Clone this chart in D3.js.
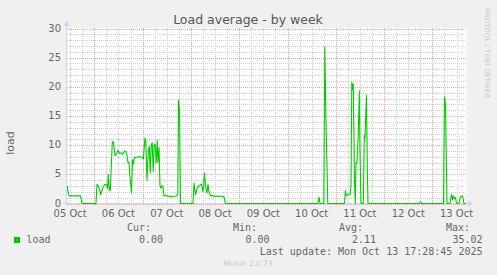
<!DOCTYPE html>
<html>
<head>
<meta charset="utf-8">
<script src="https://cdn.jsdelivr.net/npm/d3@7"></script>
<style>
html,body{margin:0;padding:0;background:#F0F0F0;}
svg{display:block;}
</style>
</head>
<body>
<svg id="chart" width="497" height="275"></svg>
<script>
// ---- data (hours since 2025-10-05 00:00, load values) ----
const hours = [10.58,11.18,11.68,17.14,17.89,24.84,25.34,26.34,27.18,28.32,29.32,30.16,30.56,30.96,31.45,31.95,32.94,33.54,34.29,35.03,35.78,36.52,37.27,38.01,38.76,39.50,40.10,40.75,41.24,41.89,42.48,42.98,43.48,43.97,44.72,45.71,46.71,47.70,48.35,48.79,49.19,49.59,50.19,50.83,51.33,51.83,52.27,52.77,53.27,53.76,54.26,54.76,55.25,55.65,56.15,56.65,57.14,57.64,58.14,58.63,59.63,60.62,61.61,62.61,63.60,64.84,65.49,65.84,66.34,66.83,73.04,73.54,74.29,75.03,75.78,76.52,77.27,78.01,78.76,79.25,80.00,80.50,80.99,81.74,82.48,83.48,84.47,85.46,86.46,87.45,88.45,89.09,135.15,135.65,136.15,138.04,138.53,139.13,140.02,148.32,148.72,149.32,150.06,151.05,151.55,151.95,152.30,152.69,153.29,153.69,154.04,154.53,155.18,155.68,156.02,156.52,157.66,158.16,158.51,158.76,159.25,159.65,160.00,185.59,186.09,186.58,197.51,198.01,198.51,199.25,200.74,201.49,201.99,202.48,202.98,203.48,203.97,205.21,205.96,206.95,207.70,208.69];
const load  = [3.0,1.5,1.3,1.3,0,0,3.3,2.8,1.5,2.8,3.3,3.2,2.6,5.0,2.3,2.2,10.6,10.5,8.2,8.5,9.1,8.6,8.7,8.4,8.8,9.0,8.6,7.0,7.0,4.0,1.8,7.5,6.8,7.9,7.9,8.0,8.0,7.9,7.6,9.5,11.2,10.8,4.0,9.0,9.8,5.2,10.0,10.4,5.5,10.2,10.0,7.0,10.8,7.0,9.6,3.0,2.6,3.1,2.8,1.3,1.4,1.2,1.3,1.1,1.2,1.3,1.6,17.7,16.0,0,0,3.5,1.5,2.5,3.0,3.1,3.3,2.0,5.2,3.0,1.8,3.3,2.0,1.3,1.4,1.2,1.3,1.2,1.3,1.2,1.2,0,0,1.1,0,0,26.8,14,0,0,2.2,1.3,1.5,1.5,3,20.8,19.5,20.5,4,0,7.0,7.0,12,19.3,9,0,0,11.7,11.2,14,18.5,6,0,0,0.3,0,0,18.3,17,0,0,1.6,0.6,1.3,0.8,1.0,0,0,1.2,1.3,0,0];
const yTicks = [0,5,10,15,20,25,30];
const legendHeads = ["Cur:","Min:","Avg:","Max:"];
const legendVals = ["0.00","0.00","2.11","35.02"];
const seriesName = "load";
const titleText = "Load average - by week";
const lastUpdate = "Last update: Mon Oct 13 17:28:45 2025";

// ---- layout ----
const svg = d3.select("#chart");
const t0 = Date.UTC(2025,9,5);
const HR = 3600*1000;
const pL = 67, pR = 467, pT = 28.5, pB = 203.5;
const x = d3.scaleUtc().domain([new Date(t0+10.435*HR), new Date(t0+209.19*HR)]).range([pL,pR]);
const y = d3.scaleLinear().domain([0,30]).range([pB, pT]);
const FONT = "'DejaVu Sans', sans-serif";
const MONO = "'DejaVu Sans Mono', monospace";

// canvas
svg.append("rect").attr("x",pL).attr("y",28).attr("width",pR-pL).attr("height",176).attr("fill","#FFFFFF");

const grid = svg.append("g");
const MINC = "#CFCFCF", MAJC = "#EBA5A5";
// minor horizontal
d3.range(0,31,1).filter(v=>v%5!==0).forEach(v=>{
  const yy = Math.round(y(v))+0.5;
  grid.append("line").attr("x1",pL).attr("x2",pR).attr("y1",yy).attr("y2",yy)
    .attr("stroke",MINC).attr("stroke-dasharray","1,1");
});
// minor vertical (6h)
x.ticks(d3.utcHour.every(6)).forEach(d=>{
  if (d.getUTCHours()===0) return;
  const xx = Math.round(x(d))+0.5;
  grid.append("line").attr("x1",xx).attr("x2",xx).attr("y1",28).attr("y2",204)
    .attr("stroke",MINC).attr("stroke-dasharray","1,1");
});
// major horizontal
yTicks.forEach(v=>{
  const yy = Math.round(y(v))+0.5;
  grid.append("line").attr("x1",pL).attr("x2",pR).attr("y1",yy).attr("y2",yy)
    .attr("stroke",MAJC).attr("stroke-dasharray","1,1");
});
// major vertical (days)
x.ticks(d3.utcDay.every(1)).forEach(d=>{
  const xx = Math.round(x(d))+0.5;
  grid.append("line").attr("x1",xx).attr("x2",xx).attr("y1",28).attr("y2",206)
    .attr("stroke",MAJC).attr("stroke-dasharray","1,1");
});

// y tick labels
yTicks.forEach(v=>{
  svg.append("text").attr("x",61).attr("y",y(v)+3).attr("text-anchor","end")
    .attr("font-family",FONT).attr("font-size","10px").attr("fill","#666").text(v);
});
// x labels at noon
const fmt = d3.utcFormat("%d %b");
d3.utcDay.range(new Date(t0), new Date(t0+9*24*HR)).forEach(d=>{
  const noon = new Date(+d + 12*HR);
  svg.append("text").attr("x",x(noon)).attr("y",216.5).attr("text-anchor","middle")
    .attr("font-family",FONT).attr("font-size","10px").attr("fill","#666").text(fmt(d));
});

// axes with arrows
const AX = "#CFD6F8";
svg.append("line").attr("x1",66.5).attr("x2",66.5).attr("y1",206).attr("y2",24).attr("stroke",AX);
svg.append("path").attr("d","M63.5,26 L66.5,20.5 L69.5,26 Z").attr("fill",AX);
svg.append("line").attr("x1",64).attr("x2",470).attr("y1",203.5).attr("y2",203.5).attr("stroke",AX);
svg.append("path").attr("d","M468,200.5 L473.5,203.5 L468,206.5 Z").attr("fill",AX);

// data line
const pts = hours.map((h,i)=>({t:new Date(t0+h*HR), v:load[i]}));
svg.append("path").datum(pts)
  .attr("d", d3.line().x(d=>x(d.t)).y(d=>y(d.v)))
  .attr("fill","none").attr("stroke","#00CC00").attr("stroke-width",1.1).attr("stroke-linejoin","round");

// title
svg.append("text").attr("x",248).attr("y",24).attr("text-anchor","middle")
  .attr("font-family",FONT).attr("font-size","12.5px").attr("fill","#555").text(titleText);
// y axis label
svg.append("text").attr("transform","translate(14,143) rotate(-90)").attr("text-anchor","middle")
  .attr("font-family",FONT).attr("font-size","11px").attr("fill","#666").text(seriesName);
// watermark
svg.append("text").attr("transform","translate(485,53) rotate(90)").attr("text-anchor","middle")
  .attr("font-family",FONT).attr("font-size","7px").attr("fill","#C8C8C8").text("RRDTOOL / TOBI OETIKER");

// legend
const headX = [151,257,363,470];
const valX = [163,269.5,376,482.5];
legendHeads.forEach((s,i)=>{
  svg.append("text").attr("x",headX[i]).attr("y",231).attr("text-anchor","end")
    .attr("font-family",MONO).attr("font-size","10px").attr("fill","#666").text(s);
  svg.append("text").attr("x",valX[i]).attr("y",243).attr("text-anchor","end")
    .attr("font-family",MONO).attr("font-size","10px").attr("fill","#666").text(legendVals[i]);
});
svg.append("rect").attr("x",14).attr("y",237).attr("width",6).attr("height",6).attr("fill","#00CC00");
svg.append("text").attr("x",26.5).attr("y",243).attr("font-family",MONO).attr("font-size","10px").attr("fill","#666").text(seriesName);
svg.append("text").attr("x",482.5).attr("y",255).attr("text-anchor","end")
  .attr("font-family",MONO).attr("font-size","10px").attr("fill","#666").text(lastUpdate);
svg.append("text").attr("x",248).attr("y",266).attr("text-anchor","middle")
  .attr("font-family",FONT).attr("font-size","7.5px").attr("fill","#C8C8C8").text("Munin 2.0.73");
</script>
</body>
</html>
